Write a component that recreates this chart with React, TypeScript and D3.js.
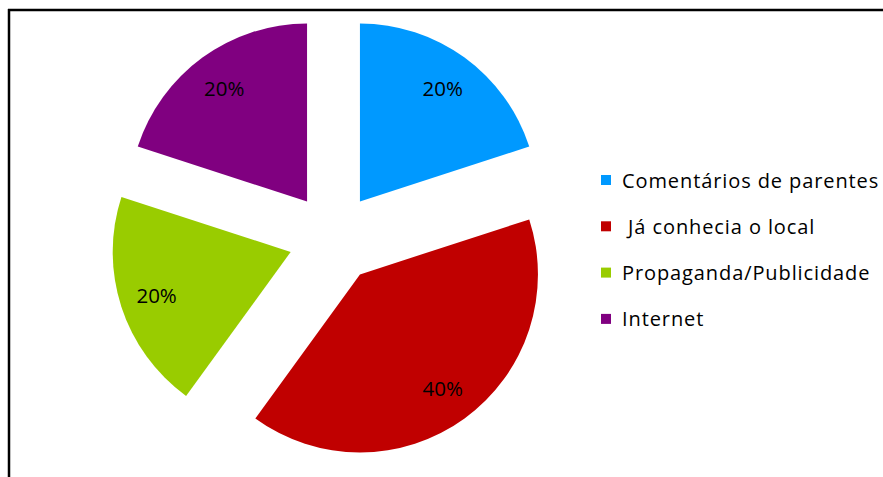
import * as d3 from "d3";
import React from "react";

const categories = ["Comentários de parentes", " Já conhecia o local", "Propaganda/Publicidade", "Internet"];
const values = [20, 40, 20, 20];
const labels = ["20%", "40%", "20%", "20%"];
const colors = ["#0099ff", "#c00000", "#99cc00", "#800080"];

const width = 883;
const height = 477;
const cx = 333.5;
const cy = 238;
const radius = 178;
const explode = 45;
const labelR = 141;

export default function App() {
  const pie = d3.pie<number>().sort(null).value((d) => d)(values);
  const arc = d3.arc<d3.PieArcDatum<number>>().innerRadius(0).outerRadius(radius);

  return (
    <svg
      width={width}
      height={height}
      style={{ position: "absolute", left: 0, top: 0 }}
      fontFamily="'Open Sans', Lato, sans-serif"
    >
      <rect width={width} height={height} fill="#fff" />
      <line x1={8} x2={width} y1={10} y2={10} stroke="#000" strokeWidth={2.5} />
      <line x1={9} x2={9} y1={9} y2={height} stroke="#000" strokeWidth={2.5} />
      {pie.map((p, i) => {
        const mid = (p.startAngle + p.endAngle) / 2;
        const ox = Math.sin(mid) * explode;
        const oy = -Math.cos(mid) * explode;
        const lx = Math.sin(mid) * labelR;
        const ly = -Math.cos(mid) * labelR;
        return (
          <g key={i} transform={`translate(${cx + ox},${cy + oy})`}>
            <path d={arc(p) ?? ""} fill={colors[i]} />
            <text x={lx} y={ly} textAnchor="middle" dominantBaseline="central" fontSize={20.5} fill="#000">
              {labels[i]}
            </text>
          </g>
        );
      })}
      {categories.map((c, i) => (
        <g key={c} transform={`translate(601,${180 + i * 46.3})`}>
          <rect x={0} y={-5} width={10} height={10} fill={colors[i]} />
          <text
            x={21}
            y={0}
            dominantBaseline="central"
            fontSize={20}
            letterSpacing={0.9}
            fill="#000"
            style={{ whiteSpace: "pre" }}
          >
            {c}
          </text>
        </g>
      ))}
    </svg>
  );
}
